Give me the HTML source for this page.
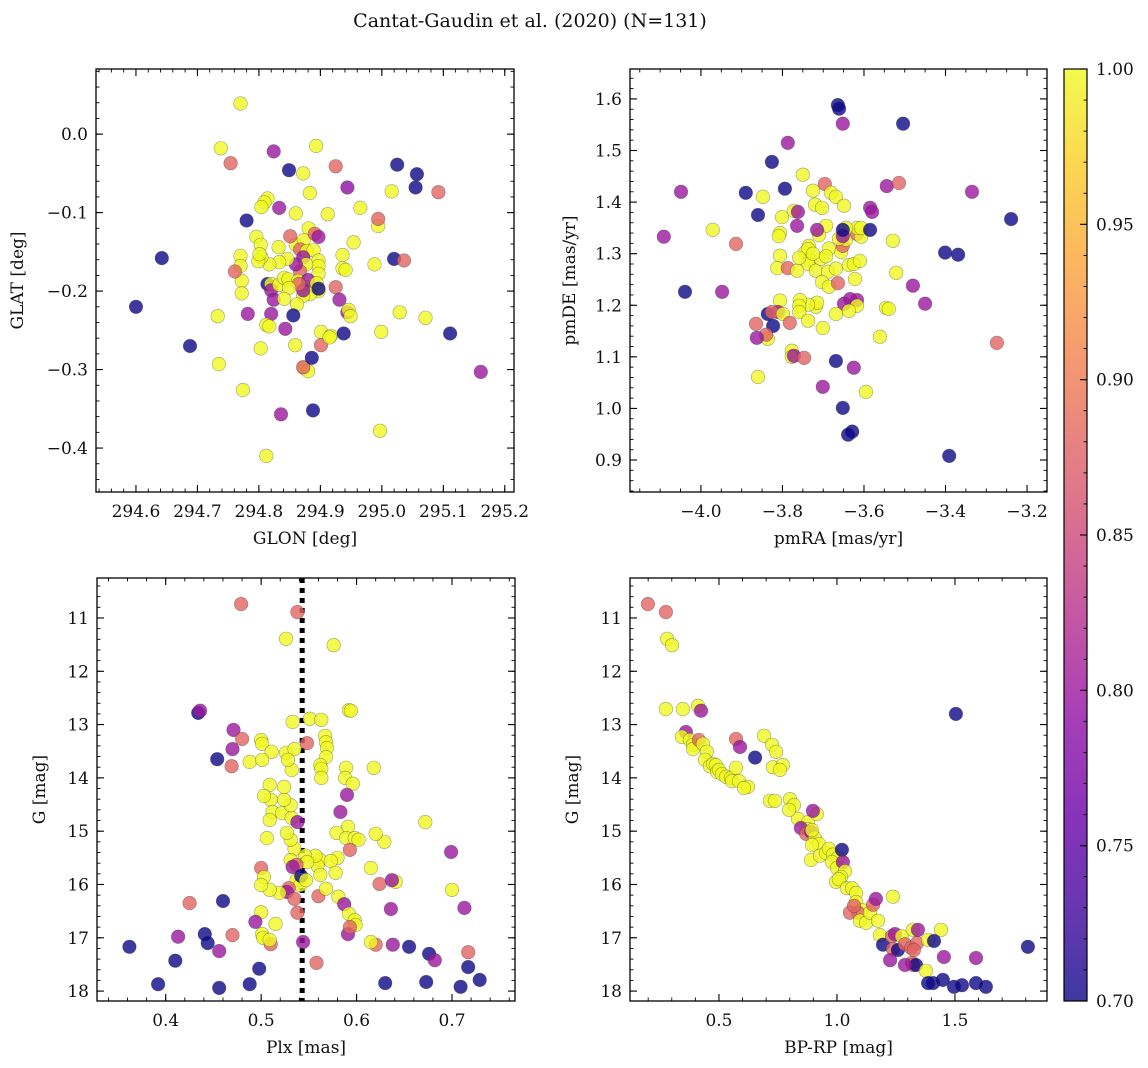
<!DOCTYPE html>
<html><head><meta charset="utf-8">
<style>
html,body{margin:0;padding:0;background:#fff;}
svg{display:block;font-family:"DejaVu Serif","Liberation Serif",serif;}
</style></head>
<body>
<svg id="fig" width="1148" height="1068" viewBox="0 0 1148 1068" xmlns="http://www.w3.org/2000/svg">
<text x="530" y="27" text-anchor="middle" font-size="19" fill="#111">Cantat-Gaudin et al. (2020) (N=131)</text>
</svg>
<script>
// ---- Panel 1: GLON / GLAT ----
const p1Lon = [294.770,294.738,294.754,294.824,294.849,294.893,294.925,294.944,295.025,295.057,295.055,295.092,295.016,294.883,294.872,294.814,294.809,294.804,294.780,294.965,294.912,294.833,294.860,294.994,294.994,294.881,294.796,294.803,294.832,294.860,294.873,294.891,294.897,294.851,294.867,294.878,294.889,294.872,294.897,294.936,294.954,294.988,295.020,295.036,294.936,294.941,294.897,294.897,294.877,294.867,294.860,294.846,294.833,294.817,294.804,294.799,294.801,294.770,294.770,294.772,294.772,294.761,294.814,294.820,294.820,294.833,294.841,294.848,294.864,294.878,294.880,294.894,294.897,294.883,294.872,294.872,294.897,294.865,294.849,294.925,294.931,294.824,294.841,294.862,294.856,294.820,294.812,294.817,294.843,294.859,294.901,294.917,294.938,294.944,294.946,294.949,294.901,294.915,294.999,295.029,295.071,295.111,295.161,294.735,294.774,294.688,294.642,294.600,294.733,294.782,294.803,294.836,294.888,294.997,294.812,294.873,294.880,294.872,294.886];
const p1Lat = [0.039,-0.018,-0.037,-0.022,-0.046,-0.015,-0.041,-0.068,-0.039,-0.051,-0.068,-0.074,-0.073,-0.075,-0.050,-0.082,-0.087,-0.093,-0.110,-0.094,-0.102,-0.094,-0.101,-0.117,-0.108,-0.120,-0.131,-0.141,-0.144,-0.141,-0.135,-0.127,-0.131,-0.130,-0.147,-0.149,-0.148,-0.157,-0.161,-0.154,-0.138,-0.166,-0.159,-0.161,-0.171,-0.173,-0.168,-0.178,-0.166,-0.175,-0.166,-0.159,-0.163,-0.166,-0.157,-0.162,-0.153,-0.155,-0.168,-0.187,-0.203,-0.175,-0.191,-0.191,-0.199,-0.192,-0.183,-0.185,-0.187,-0.195,-0.186,-0.190,-0.200,-0.204,-0.206,-0.199,-0.197,-0.191,-0.196,-0.195,-0.211,-0.211,-0.210,-0.217,-0.231,-0.229,-0.243,-0.245,-0.248,-0.269,-0.252,-0.257,-0.254,-0.227,-0.224,-0.232,-0.269,-0.259,-0.252,-0.227,-0.234,-0.254,-0.303,-0.293,-0.326,-0.270,-0.158,-0.220,-0.232,-0.229,-0.273,-0.357,-0.352,-0.378,-0.410,-0.298,-0.302,-0.297,-0.285];
const p1Prob = [1,1,.88,.8,.7,1,.88,.79,.7,.7,.7,.88,1,1,1,1,1,1,.7,1,1,.8,1,1,.88,1,1,1,1,1,1,.88,.8,.88,.88,1,1,.8,1,1,1,1,.7,.88,1,1,1,1,1,.88,.8,1,1,1,1,1,1,1,1,1,1,.88,.7,1,.8,1,1,1,1,1,.8,1,1,1,1,.8,.7,.88,1,.88,.8,.8,1,1,.7,.8,1,1,.8,1,1,1,.7,.8,1,1,.88,1,1,1,1,.7,.8,1,1,.7,.7,.7,1,.8,1,.8,.7,1,1,1,1,.88,.7];

// ---- Panel 2: pmRA / pmDE ----
const p2Ra = [-4.091,-4.049,-3.971,-3.914,-4.039,-3.948,-3.860,-3.890,-3.848,-3.860,-3.826,-3.787,-3.794,-3.750,-3.801,-3.806,-3.809,-3.772,-3.764,-3.762,-3.696,-3.681,-3.669,-3.725,-3.720,-3.703,-3.693,-3.710,-3.715,-3.735,-3.745,-3.737,-3.733,-3.737,-3.806,-3.813,-3.787,-3.764,-3.759,-3.718,-3.706,-3.688,-3.669,-3.703,-3.686,-3.664,-3.637,-3.625,-3.656,-3.652,-3.644,-3.661,-3.649,-3.617,-3.607,-3.617,-3.607,-3.644,-3.652,-3.652,-3.610,-3.622,-3.617,-3.634,-3.649,-3.617,-3.637,-3.669,-3.718,-3.715,-3.737,-3.757,-3.759,-3.806,-3.836,-3.811,-3.826,-3.823,-3.865,-3.836,-3.840,-3.863,-3.799,-3.759,-3.737,-3.701,-3.782,-3.777,-3.777,-3.772,-3.747,-3.701,-3.669,-3.625,-3.595,-3.652,-3.629,-3.639,-3.664,-3.661,-3.652,-3.504,-3.585,-3.580,-3.585,-3.544,-3.514,-3.529,-3.521,-3.546,-3.539,-3.561,-3.450,-3.480,-3.335,-3.401,-3.369,-3.239,-3.274,-3.391,-3.725,-3.686,-3.693];
const p2De = [1.333,1.420,1.346,1.319,1.226,1.226,1.061,1.418,1.410,1.375,1.478,1.515,1.426,1.453,1.371,1.340,1.334,1.383,1.354,1.381,1.435,1.418,1.410,1.422,1.395,1.389,1.354,1.336,1.346,1.315,1.302,1.309,1.288,1.280,1.296,1.272,1.272,1.267,1.292,1.267,1.290,1.265,1.271,1.245,1.236,1.243,1.278,1.280,1.303,1.315,1.327,1.329,1.393,1.338,1.333,1.350,1.350,1.350,1.334,1.346,1.286,1.251,1.210,1.212,1.203,1.199,1.189,1.183,1.197,1.205,1.201,1.210,1.199,1.209,1.183,1.187,1.187,1.160,1.164,1.135,1.143,1.137,1.183,1.187,1.170,1.156,1.166,1.112,1.100,1.102,1.098,1.042,1.092,1.079,1.032,1.001,0.955,0.949,1.588,1.581,1.552,1.552,1.389,1.381,1.346,1.431,1.437,1.325,1.263,1.195,1.193,1.139,1.203,1.238,1.420,1.302,1.298,1.367,1.127,0.908,1.300,1.310,1.295];
const p2Prob = [.8,.8,1,.88,.7,.8,1,.7,1,.7,.7,.8,.7,1,1,1,1,1,.8,.8,.88,1,1,1,1,1,1,1,.8,1,1,1,1,1,1,1,.88,1,1,1,1,1,1,1,1,.88,1,1,1,.88,1,1,1,.88,1,1,1,1,.8,.7,1,1,.8,.8,.8,1,1,1,1,1,1,1,1,1,.7,.8,.88,.7,.88,1,.88,.8,1,1,1,1,.88,1,1,.8,.88,.8,.7,.8,1,.7,.7,.7,.7,.7,.8,.7,.8,.8,.7,.8,.88,1,1,1,1,1,.8,.8,.8,.7,.7,.7,.88,.7,1,1,1];

// ---- Panel 3: Plx / G ----
const p3Plx = [0.479,0.538,0.526,0.576,0.434,0.436,0.551,0.563,0.592,0.594,0.533,0.471,0.480,0.500,0.469,0.454,0.470,0.501,0.511,0.526,0.535,0.548,0.567,0.568,0.569,0.568,0.562,0.563,0.563,0.589,0.588,0.596,0.590,0.583,0.618,0.591,0.579,0.589,0.598,0.602,0.593,0.580,0.562,0.559,0.573,0.578,0.562,0.560,0.581,0.568,0.587,0.592,0.598,0.599,0.591,0.593,0.557,0.546,0.535,0.531,0.527,0.510,0.512,0.506,0.509,0.522,0.532,0.531,0.524,0.509,0.524,0.532,0.528,0.503,0.488,0.501,0.538,0.531,0.548,0.537,0.533,0.537,0.541,0.542,0.547,0.529,0.527,0.535,0.538,0.519,0.509,0.500,0.503,0.500,0.501,0.502,0.510,0.509,0.494,0.500,0.515,0.470,0.460,0.441,0.444,0.413,0.456,0.410,0.425,0.362,0.392,0.456,0.488,0.498,0.544,0.558,0.624,0.620,0.615,0.638,0.636,0.655,0.676,0.673,0.700,0.682,0.672,0.629,0.615,0.620,0.641,0.637,0.699,0.713,0.717,0.717,0.729,0.709,0.630];
const p3G = [10.74,10.89,11.39,11.51,12.78,12.74,12.89,12.91,12.73,12.74,12.95,13.10,13.27,13.29,13.78,13.65,13.46,13.36,13.51,13.53,13.46,13.35,13.21,13.33,13.44,13.61,13.76,13.83,14.00,13.81,14.00,14.11,14.32,14.64,13.81,14.92,15.03,15.13,15.13,15.16,15.35,15.50,15.54,15.65,15.56,15.78,15.82,16.22,16.23,16.08,16.37,16.55,16.67,16.76,16.93,16.80,15.46,15.46,15.33,15.16,15.03,14.41,14.64,15.13,14.79,14.66,14.75,14.51,14.41,14.13,14.17,13.85,13.66,14.34,13.70,13.66,14.83,15.54,15.58,15.63,15.67,15.92,16.01,15.84,15.92,16.07,16.14,16.27,16.53,16.16,16.10,15.69,15.86,16.52,16.93,17.00,17.12,17.04,16.70,16.01,16.74,16.95,16.31,16.93,17.10,16.98,17.25,17.43,16.35,17.17,17.87,17.94,17.87,17.58,17.08,17.47,15.99,17.13,17.08,17.13,16.46,17.17,17.30,17.83,16.10,17.42,14.83,15.20,15.69,15.05,15.95,15.92,15.39,16.44,17.27,17.55,17.79,17.92,17.85];
const p3Prob = [.88,.88,1,1,.7,.8,1,1,1,1,1,.8,.88,1,.88,.7,.8,1,1,1,1,.88,1,1,1,1,1,1,1,1,1,1,.8,.8,1,1,1,1,1,1,.88,1,1,1,1,1,1,.88,1,1,.8,1,1,1,.8,.88,1,1,1,1,1,1,1,1,1,1,1,1,1,1,1,1,1,1,1,1,.8,1,1,.88,.8,1,1,.7,1,.88,.8,.88,.88,1,1,.88,1,1,1,1,.88,1,.8,1,1,.88,.7,.7,.7,.8,.8,.7,.88,.7,.7,.7,.7,.7,.8,.88,.88,.88,1,.8,.8,.7,.7,.7,1,.8,1,1,1,1,1,.8,.8,.8,.88,.7,.7,.7,.7];

// ---- Panel 4: BP-RP / G ----
const p4Col = [0.199,0.275,0.280,0.301,0.275,0.347,0.411,0.424,0.360,0.343,0.377,0.390,0.390,0.415,0.432,0.449,0.441,0.462,0.475,0.487,0.492,0.500,0.513,0.530,0.551,0.555,0.585,0.572,0.572,0.589,0.623,0.606,0.653,0.691,0.725,0.742,0.729,0.771,0.758,0.716,0.737,0.801,0.835,0.877,0.877,0.915,0.898,0.847,0.869,0.890,0.907,0.924,0.894,0.894,0.890,0.928,0.953,0.966,0.983,1.004,0.979,1.000,1.021,1.025,1.034,1.017,0.996,1.008,1.042,1.064,1.081,1.081,1.106,1.089,1.055,1.072,1.097,1.123,1.140,1.153,1.174,1.165,1.182,1.195,1.233,1.237,1.246,1.258,1.225,1.275,1.288,1.314,1.318,1.322,1.335,1.339,1.237,1.322,1.326,1.288,1.386,1.343,1.377,1.453,1.441,1.411,1.504,1.407,1.386,1.449,1.496,1.530,1.589,1.589,1.631,1.809,0.818,0.797];
const p4G = [10.74,10.89,11.39,11.51,12.71,12.71,12.65,12.74,13.14,13.23,13.29,13.38,13.46,13.29,13.36,13.51,13.66,13.78,13.74,13.76,13.89,13.85,13.93,13.98,14.00,14.06,14.06,13.81,13.27,13.42,14.17,14.19,13.62,13.21,13.38,13.51,13.80,13.76,13.85,14.43,14.43,14.40,14.77,14.83,14.96,14.68,14.62,14.94,15.05,15.01,15.13,15.24,14.98,15.26,15.54,15.46,15.41,15.33,15.44,15.50,15.58,15.69,15.35,15.58,15.75,15.86,15.95,15.90,16.07,16.07,16.16,16.33,16.48,16.53,16.53,16.40,16.68,16.72,16.53,16.38,16.68,16.27,16.95,17.13,16.97,17.21,16.93,17.23,17.42,16.97,17.12,17.19,17.47,17.51,17.51,17.10,16.23,16.85,17.23,17.51,17.04,16.85,17.62,17.36,16.85,17.06,12.80,17.85,17.85,17.79,17.92,17.89,17.38,17.85,17.92,17.17,14.51,14.60];
const p4Prob = [.88,.88,1,1,1,1,1,.8,.8,1,1,1,1,.88,1,1,1,1,1,1,1,1,1,1,1,1,1,1,.88,.8,1,1,.7,1,1,1,1,1,1,1,1,1,1,1,1,1,.8,.8,.88,.8,1,1,1,1,1,1,1,1,1,1,1,1,.7,.8,1,1,1,1,1,1,1,1,1,.88,.88,.88,1,1,1,.88,1,.8,1,.7,.88,.88,.8,.7,.8,1,.88,.88,.88,.88,.7,.88,1,1,.88,.8,1,.8,1,.8,1,.7,.7,.7,.7,.7,.7,.7,.8,.7,.7,.7,1,1];

// colorbar ticks
const cbTicks = [0.70,0.75,0.80,0.85,0.90,0.95,1.00];
const parallaxRef = 0.543;

const NS = "http://www.w3.org/2000/svg";
const svg = document.getElementById('fig');
const FS = 17;
function mk(tag, attrs, parent){
  const e = document.createElementNS(NS, tag);
  for (const k in attrs) e.setAttribute(k, attrs[k]);
  (parent||svg).appendChild(e);
  return e;
}
const stops = [[0,'#0d0887'],[0.1,'#41049d'],[0.2,'#6a00a8'],[0.3,'#8f0da4'],[0.4,'#b12a90'],[0.5,'#cc4778'],[0.6,'#e16462'],[0.7,'#f2844b'],[0.8,'#fca636'],[0.9,'#fcce25'],[1,'#f0f921']];
function hex(h){return [parseInt(h.substr(1,2),16),parseInt(h.substr(3,2),16),parseInt(h.substr(5,2),16)];}
function plasma(t){
  t=Math.max(0,Math.min(1,t));
  for(let i=0;i<stops.length-1;i++){
    if(t<=stops[i+1][0]){
      const a=hex(stops[i][1]), b=hex(stops[i+1][1]);
      const f=(t-stops[i][0])/(stops[i+1][0]-stops[i][0]);
      return 'rgb('+a.map((v,j)=>Math.round(v+(b[j]-v)*f)).join(',')+')';
    }
  }
  return stops[stops.length-1][1];
}
function cmap(p){return plasma((p-0.7)/0.3);}
function fmt(v,d){const s=v.toFixed(d);return s.replace('-','\u2212');}

function panel(cfg){
  const {L,T,R,B,xlim,ylim,name} = cfg;
  const sx = v => L + (v-xlim[0])/(xlim[1]-xlim[0])*(R-L);
  const sy = v => B - (v-ylim[0])/(ylim[1]-ylim[0])*(B-T);
  const g = mk('g',{});
  
  
  const clipId = name+'-clip';
  const cp = mk('clipPath',{id:clipId},g);
  mk('rect',{x:L,y:T,width:R-L,height:B-T},cp);
  const marks = mk('g',{'clip-path':'url(#'+clipId+')'},g);
  if (cfg.vline!==undefined){
    const ln = mk('line',{x1:sx(cfg.vline),x2:sx(cfg.vline),y1:T,y2:B,stroke:'#000','stroke-width':5,'stroke-dasharray':'5,5'},marks);
    
    
  }
  for(let i=0;i<cfg.xs.length;i++){
    const c = mk('circle',{cx:sx(cfg.xs[i]).toFixed(1),cy:sy(cfg.ys[i]).toFixed(1),r:6.8,fill:cmap(cfg.ps[i]),'fill-opacity':0.8,stroke:'#333','stroke-opacity':0.45,'stroke-width':0.6},marks);
    
    
  }
  mk('rect',{x:L,y:T,width:R-L,height:B-T,fill:'none',stroke:'#000','stroke-width':1.3},g);
  const eps=1e-9;
  const xMin = Math.ceil((Math.min(...xlim))/cfg.xminor-eps)*cfg.xminor;
  for(let v=xMin; v<=Math.max(...xlim)+eps; v+=cfg.xminor){
    const X=sx(v);
    mk('line',{x1:X,x2:X,y1:B,y2:B-3.5,stroke:'#000','stroke-width':0.9},g);
    mk('line',{x1:X,x2:X,y1:T,y2:T+3.5,stroke:'#000','stroke-width':0.9},g);
  }
  cfg.xmajor.forEach(v=>{
    const X=sx(v);
    mk('line',{x1:X,x2:X,y1:B,y2:B-7,stroke:'#000','stroke-width':1.1},g);
    mk('line',{x1:X,x2:X,y1:T,y2:T+7,stroke:'#000','stroke-width':1.1},g);
    const t=mk('text',{x:X,y:B+25,'text-anchor':'middle','font-size':FS,fill:'#111'},g);
    t.textContent=fmt(v,cfg.xd);
    
    
  });
  const yLo=Math.min(...ylim), yHi=Math.max(...ylim);
  const yMin = Math.ceil(yLo/cfg.yminor-eps)*cfg.yminor;
  for(let v=yMin; v<=yHi+eps; v+=cfg.yminor){
    const Y=sy(v);
    mk('line',{x1:L,x2:L+3.5,y1:Y,y2:Y,stroke:'#000','stroke-width':0.9},g);
    mk('line',{x1:R,x2:R-3.5,y1:Y,y2:Y,stroke:'#000','stroke-width':0.9},g);
  }
  cfg.ymajor.forEach(v=>{
    const Y=sy(v);
    mk('line',{x1:L,x2:L+7,y1:Y,y2:Y,stroke:'#000','stroke-width':1.1},g);
    mk('line',{x1:R,x2:R-7,y1:Y,y2:Y,stroke:'#000','stroke-width':1.1},g);
    const t=mk('text',{x:L-8,y:Y+6,'text-anchor':'end','font-size':FS,fill:'#111'},g);
    t.textContent=fmt(v,cfg.yd);
    
    
  });
  const xt=mk('text',{x:(L+R)/2,y:B+52,'text-anchor':'middle','font-size':FS,fill:'#111'},g);
  xt.textContent=cfg.xlabel;
  
  
  const yx = cfg.ylx;
  const yt=mk('text',{x:yx,y:(T+B)/2,'text-anchor':'middle','font-size':FS,fill:'#111',transform:'rotate(-90 '+yx+' '+((T+B)/2)+')'},g);
  yt.textContent=cfg.ylabel;
  
  
}

panel({name:'glon-glat-panel',L:96,T:69,R:514,B:492,xlim:[294.535,295.215],ylim:[-0.456,0.083],
  xs:p1Lon,ys:p1Lat,ps:p1Prob,xmajor:[294.6,294.7,294.8,294.9,295.0,295.1,295.2],xminor:0.02,xd:1,
  ymajor:[-0.4,-0.3,-0.2,-0.1,0.0],yminor:0.02,yd:1,xlabel:'GLON [deg]',ylabel:'GLAT [deg]',ylx:23});
panel({name:'proper-motion-panel',L:630,T:69,R:1047,B:492,xlim:[-4.174,-3.151],ylim:[0.838,1.658],
  xs:p2Ra,ys:p2De,ps:p2Prob,xmajor:[-4.0,-3.8,-3.6,-3.4,-3.2],xminor:0.05,xd:1,
  ymajor:[0.9,1.0,1.1,1.2,1.3,1.4,1.5,1.6],yminor:0.02,yd:1,xlabel:'pmRA [mas/yr]',ylabel:'pmDE [mas/yr]',ylx:575});
panel({name:'parallax-magnitude-panel',L:97,T:578,R:515,B:1001,xlim:[0.328,0.766],ylim:[18.186,10.25],
  xs:p3Plx,ys:p3G,ps:p3Prob,xmajor:[0.4,0.5,0.6,0.7],xminor:0.02,xd:1,vline:parallaxRef,
  ymajor:[11,12,13,14,15,16,17,18],yminor:0.2,yd:0,xlabel:'Plx [mas]',ylabel:'G [mag]',ylx:45});
panel({name:'color-magnitude-panel',L:630,T:578,R:1047,B:1001,xlim:[0.123,1.890],ylim:[18.186,10.25],
  xs:p4Col,ys:p4G,ps:p4Prob,xmajor:[0.5,1.0,1.5],xminor:0.1,xd:1,
  ymajor:[11,12,13,14,15,16,17,18],yminor:0.2,yd:0,xlabel:'BP-RP [mag]',ylabel:'G [mag]',ylx:578});

// colorbar
(function(){
  const L=1064,R=1087,T=69,B=1001;
  const g=mk('g',{});
  
  
  const defs=mk('defs',{},g);
  const lg=mk('linearGradient',{id:'cbgrad',x1:0,y1:1,x2:0,y2:0},defs);
  for(let i=0;i<=20;i++){
    const t=i/20;
    mk('stop',{offset:t,'stop-color':plasma(t),'stop-opacity':0.8},lg);
  }
  mk('rect',{x:L,y:T,width:R-L,height:B-T,fill:'url(#cbgrad)'},g);
  mk('rect',{x:L,y:T,width:R-L,height:B-T,fill:'none',stroke:'#000','stroke-width':1.2},g);
  const sy=v=>B-(v-0.7)/0.3*(B-T);
  for(let v=0.70; v<=1.0001; v+=0.01){
    mk('line',{x1:R,x2:R-3.5,y1:sy(v),y2:sy(v),stroke:'#000','stroke-width':0.9},g);
  }
  cbTicks.forEach(v=>{
    const Y=sy(v);
    mk('line',{x1:R,x2:R-7,y1:Y,y2:Y,stroke:'#000','stroke-width':1.1},g);
    const t=mk('text',{x:R+9,y:Y+6,'font-size':FS,fill:'#111'},g);
    t.textContent=v.toFixed(2);
    
    
  });
})();
</script>
</body></html>
